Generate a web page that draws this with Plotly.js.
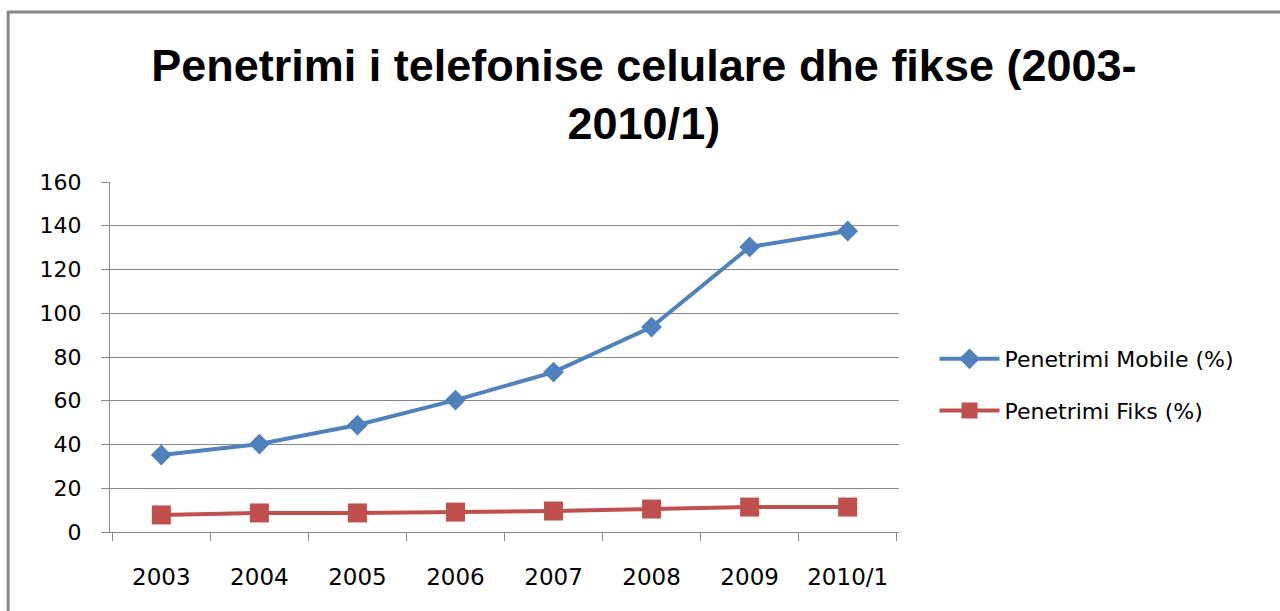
<!DOCTYPE html>
<html>
<head>
<meta charset="utf-8">
<script src="https://cdn.plot.ly/plotly-3.0.1.min.js"></script>
<style>
  body { margin: 0; background: #fff; }
  #graph { width: 1280px; height: 611px; }
</style>
</head>
<body>
<div id="graph"></div>
<script>
var years = ["2003", "2004", "2005", "2006", "2007", "2008", "2009", "2010/1"];
var mobile = [35.2, 40.2, 48.9, 60.3, 73.1, 93.7, 130.3, 137.6];
var fiks = [7.8, 8.7, 8.7, 9.1, 9.6, 10.5, 11.4, 11.4];
var yTicks = [0, 20, 40, 60, 80, 100, 120, 140, 160];

var data = [{
  x: years,
  y: mobile,
  name: "Penetrimi Mobile (%)",
  legendgroup: "a",
  type: "scatter",
  mode: "lines+markers",
  line: { color: "#4F81BD", width: 4 },
  marker: { symbol: "diamond", size: 16, color: "#4F81BD" }
}, {
  x: years,
  y: fiks,
  name: "Penetrimi Fiks (%)",
  legendgroup: "b",
  type: "scatter",
  mode: "lines+markers",
  line: { color: "#C0504D", width: 4 },
  marker: { symbol: "square", size: 19, color: "#C0504D" }
}];

const layout = {
  width: 1280,
  height: 611,
  paper_bgcolor: "#fff",
  plot_bgcolor: "#fff",
  margin: { l: 110, r: 381, t: 182, b: 79 },
  font: { family: "DejaVu Sans, sans-serif", color: "#000", size: 19 },
  title: {
    text: "Penetrimi i telefonise celulare dhe fikse (2003-<br>2010/1)",
    font: { family: "Liberation Sans, sans-serif", size: 45, color: "#000", weight: "bold" },
    x: 0.503,
    xref: "container",
    xanchor: "center",
    y: 0.868,
    yref: "container",
    yanchor: "top"
  },
  xaxis: {
    type: "category",
    tickson: "boundaries",
    ticks: "outside",
    ticklen: 8,
    tickcolor: "#888",
    showline: true,
    linecolor: "#888",
    linewidth: 1,
    showgrid: false,
    tickfont: { size: 23 },
    ticklabelstandoff: 24
  },
  yaxis: {
    range: [0, 160],
    tickvals: yTicks,
    ticks: "outside",
    ticklen: 8,
    tickcolor: "#888",
    showline: true,
    linecolor: "#888",
    gridcolor: "#888",
    gridwidth: 1,
    zeroline: false,
    tickfont: { size: 22 },
    ticklabelstandoff: 15
  },
  showlegend: true,
  legend: {
    x: 1.045,
    xanchor: "left",
    y: 0.42,
    yanchor: "middle",
    traceorder: "grouped",
    tracegroupgap: 20,
    font: { size: 22 },
    itemwidth: 60
  },
  shapes: [{
    type: "rect",
    xref: "paper",
    yref: "paper",
    x0: -0.129,
    x1: 1.6,
    y0: -0.5,
    y1: 1.486,
    line: { color: "#888", width: 3 },
    layer: "below"
  }]
};

Plotly.newPlot(document.getElementById("graph"), data, layout, { staticPlot: true });
</script>
</body>
</html>
